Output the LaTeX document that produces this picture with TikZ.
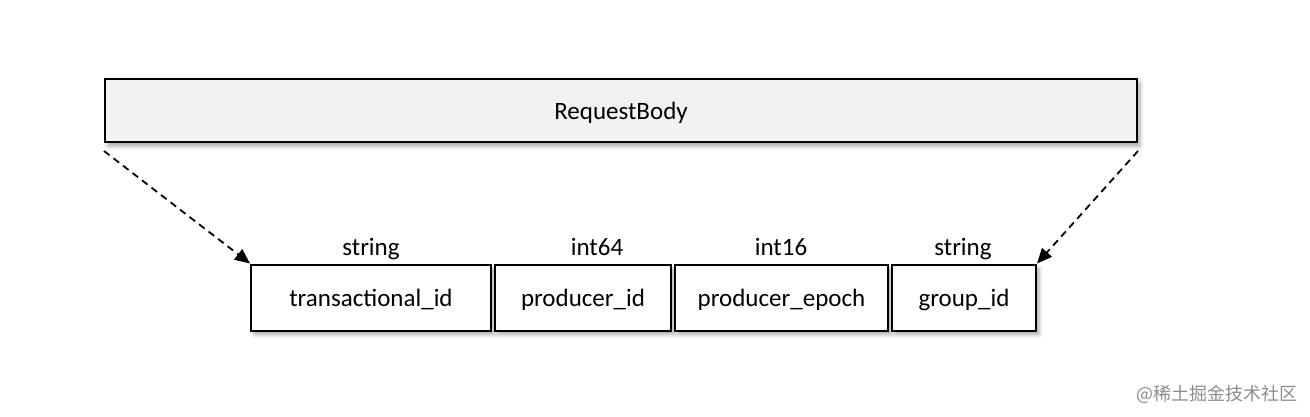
\documentclass[tikz,border=0pt]{standalone}
\usepackage{fontspec}
\setmainfont{Carlito}
\newfontfamily\cjk{Noto Sans CJK SC}
\usetikzlibrary{arrows.meta,shadows.blur}
\begin{document}
\begin{tikzpicture}[x=1pt,y=-1pt,
  every node/.style={font=\fontsize{25}{30}\selectfont, inner sep=0pt},
  field/.style={draw=black, line width=2pt, fill=white, minimum height=66pt, text depth=-4pt,
    blur shadow={shadow xshift=3pt, shadow yshift=-4pt, shadow blur radius=4pt, shadow opacity=35}},
  bodybox/.style={field, fill=black!5, minimum height=63pt},
  typelabel/.style={anchor=base},
  link/.style={line width=1.8pt, dash pattern=on 7pt off 5pt, -{Triangle[length=15pt,width=13pt]}}
]
\useasboundingbox (0,0) rectangle (1310,416);
\node[bodybox, minimum width=1032pt] (body) at (621,110.5) {RequestBody};
\node[field, minimum width=240pt] (tid) at (371,297.5) {transactional\_id};
\node[field, minimum width=176pt] (pid) at (583,297.5) {producer\_id};
\node[field, minimum width=213pt] (pep) at (781.5,297.5) {producer\_epoch};
\node[field, minimum width=144pt] (gid) at (964,297.5) {group\_id};
\node[typelabel] (t1) at (371,255) {string};
\node[typelabel] (t2) at (597,255) {int64};
\node[typelabel] (t3) at (781,255) {int16};
\node[typelabel] (t4) at (963,255) {string};
\coordinate (ls) at ([yshift=-8pt]body.south west);
\coordinate (rs) at ([yshift=-8pt]body.south east);
\draw[link] (ls) -- (tid.north west);
\draw[link] (rs) -- (gid.north east);
\node[anchor=base east, text=black!45, font=\cjk\fontsize{18}{22}\selectfont] (wm) at (1298,400) {@稀土掘金技术社区};
\end{tikzpicture}
\end{document}
